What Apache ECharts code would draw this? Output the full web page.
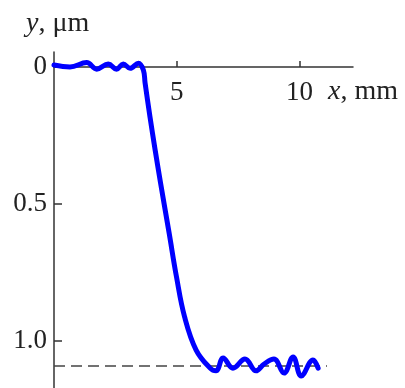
<!DOCTYPE html>
<html>
<head>
<meta charset="utf-8">
<script src="https://cdn.jsdelivr.net/npm/echarts@6/dist/echarts.min.js"></script>
<style>
  html, body { margin: 0; padding: 0; background: #fff; }
  #chart { width: 405px; height: 388px; }
</style>
</head>
<body>
<div id="chart"></div>
<script>
// Surface profile: x position (mm) vs depth y (µm)
const profileX = [0, 0.65, 1.33, 1.74, 2.21, 2.55, 2.82, 3.10, 3.44, 3.64,
  3.71, 3.91, 4.12, 4.34, 4.69, 4.99, 5.32, 5.79, 6.36, 6.60,
  6.89, 7.29, 7.78, 8.23, 8.56, 8.96, 9.37, 9.74, 10.07, 10.55, 10.76];
const profileY = [-0.007, 0.000, -0.016, 0.008, -0.011, 0.008, -0.011, 0.005, -0.014, 0.011,
  0.058, 0.182, 0.303, 0.423, 0.606, 0.766, 0.912, 1.033, 1.099, 1.109,
  1.062, 1.099, 1.066, 1.109, 1.084, 1.066, 1.117, 1.058, 1.128, 1.069, 1.099];

// Reference level (dashed)
const levelX = [0, 11.12];
const levelY = [1.091, 1.091];

const xTicks = [5, 10];
const yTicks = [0, 0.5, 1.0];
const yTickLabels = ['0', '0.5', '1.0'];

const FONT = "'Liberation Serif', 'Times New Roman', serif";
const FS = 27;
const FS_UNIT = 28;
const INK = '#222';

const chart = echarts.init(document.getElementById('chart'), null, { renderer: 'canvas' });

function unitLabel(left, top, sym, unit) {
  return {
    left: left, top: top,
    text: '{i|' + sym + '}{n|, ' + unit + '}',
    textStyle: {
      rich: {
        i: { fontFamily: FONT, fontSize: FS_UNIT, fontStyle: 'italic', fontWeight: 'normal', color: INK },
        n: { fontFamily: FONT, fontSize: FS_UNIT, fontWeight: 'normal', color: INK }
      }
    }
  };
}

chart.setOption({
  animation: false,
  backgroundColor: '#fff',
  grid: { left: 54, right: 52, top: 52, bottom: 0 },
  title: [
    unitLabel(21, 5, 'y', 'μm'),
    unitLabel(323, 73, 'x', 'mm')
  ],
  xAxis: {
    type: 'value',
    position: 'top',
    min: 0,
    max: 12.18,
    splitLine: { show: false },
    axisLine: { onZero: true, lineStyle: { color: '#333', width: 1.5 } },
    axisTick: { show: true, inside: false, length: 6, customValues: xTicks, lineStyle: { color: '#333', width: 1.5 } },
    axisLabel: {
      inside: true, margin: 27, customValues: xTicks,
      fontFamily: FONT, fontSize: FS, color: INK
    }
  },
  yAxis: {
    type: 'value',
    inverse: true,
    min: -0.0547,
    max: 1.1715,
    splitLine: { show: false },
    axisLine: { show: true, lineStyle: { color: '#333', width: 1.5 } },
    axisTick: { show: true, inside: true, length: 8, customValues: yTicks, lineStyle: { color: '#333', width: 1.5 } },
    axisLabel: {
      margin: 7, customValues: yTicks,
      fontFamily: FONT, fontSize: FS, color: INK,
      formatter: function (v) {
        const i = yTicks.indexOf(v);
        return i >= 0 ? yTickLabels[i] : '';
      }
    }
  },
  series: [
    {
      type: 'line',
      data: levelX.map((x, i) => [x, levelY[i]]),
      showSymbol: false,
      lineStyle: { color: '#444', width: 1.5, type: [11, 6] },
      z: 1
    },
    {
      type: 'line',
      data: profileX.map((x, i) => [x, profileY[i]]),
      smooth: 0.4,
      showSymbol: false,
      lineStyle: { color: '#0000ff', width: 5, cap: 'round', join: 'round' },
      z: 2
    }
  ]
});
</script>
</body>
</html>
